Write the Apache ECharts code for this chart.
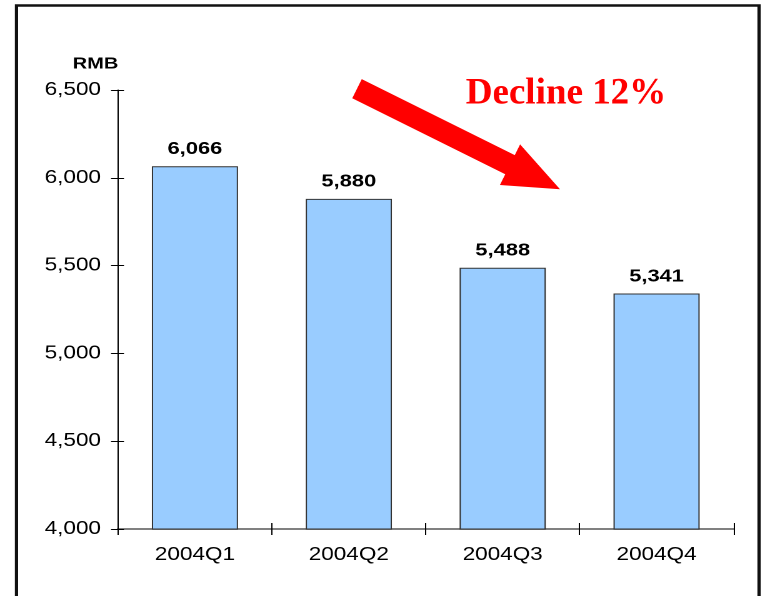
<!DOCTYPE html>
<html>
<head>
<meta charset="utf-8">
<script src="https://cdn.jsdelivr.net/npm/echarts@6/dist/echarts.min.js"></script>
<style>
  html, body { margin: 0; padding: 0; background: #fff; overflow: hidden; }
  #wrap { width: 763px; height: 596px; overflow: hidden; }
  #chart { width: 610.4px; height: 596px; transform: scaleX(1.25); transform-origin: 0 0; }
</style>
</head>
<body>
<div id="wrap"><div id="chart"></div></div>
<script>
// ---- data ----
const categories = ['2004Q1', '2004Q2', '2004Q3', '2004Q4'];
const values = [6066, 5880, 5488, 5341];
const yMin = 4000;
const yMax = 6500;
const yInterval = 500;
const unitLabel = 'RMB';
const annotation = 'Decline 12%';

// ---- layout ----
const SX = 1.25; // horizontal stretch of the whole picture
const fx = x => x / SX;
const fmt = v => Number(v).toLocaleString('en-US');
const FONT = '"Liberation Sans", Arial, sans-serif';

const chart = echarts.init(document.getElementById('chart'), null, { devicePixelRatio: 2, renderer: 'canvas' });

// arrow outline (decoration)
const arrowPts = [
  [361.75, 79.1], [514.75, 155.1], [520.1, 144.4], [560, 189.3],
  [499.9, 185], [505.25, 174.3], [352.25, 98.3]
].map(p => [fx(p[0]), p[1]]);

const option = {
  animation: false,
  backgroundColor: '#fff',
  grid: { left: fx(118), right: 610.4 - fx(734), top: 90, bottom: 67, containLabel: false },
  xAxis: [
    {
      type: 'category', data: categories, position: 'bottom',
      axisLine: { show: true, lineStyle: { color: '#808080', width: 2 } },
      axisTick: { show: true, alignWithLabel: false, inside: false, length: 6, lineStyle: { color: '#000', width: 1 } },
      axisLabel: { color: '#000', fontFamily: FONT, fontSize: 18, margin: 17 },
      splitLine: { show: false }
    },
    {
      type: 'category', data: categories, position: 'bottom',
      axisLine: { show: false },
      axisTick: { show: true, inside: true, length: 6, lineStyle: { color: '#000', width: 1 } },
      axisLabel: { show: false },
      splitLine: { show: false }
    }
  ],
  yAxis: [
    {
      type: 'value', min: yMin, max: yMax, interval: yInterval, position: 'left',
      axisLine: { show: true, lineStyle: { color: '#000', width: 1 } },
      axisTick: { show: true, inside: false, length: fx(7), lineStyle: { color: '#000' } },
      axisLabel: { color: '#000', fontFamily: FONT, fontSize: 18, margin: fx(17), formatter: v => fmt(v) },
      splitLine: { show: false }
    },
    {
      type: 'value', min: yMin, max: yMax, interval: yInterval, position: 'left',
      axisLine: { show: false },
      axisTick: { show: true, inside: true, length: fx(6), lineStyle: { color: '#000' } },
      axisLabel: { show: false },
      splitLine: { show: false }
    }
  ],
  series: [
    {
      type: 'bar', data: values, xAxisIndex: 0, yAxisIndex: 0,
      barWidth: '56%',
      itemStyle: { color: '#99CCFF', borderColor: '#333', borderWidth: 1 },
      label: {
        show: true, position: 'top', distance: 8,
        color: '#000', fontFamily: FONT, fontWeight: 'bold', fontSize: 17.5,
        formatter: p => fmt(p.value)
      }
    }
  ],
  graphic: [
    {
      type: 'rect', silent: true, z: 10,
      shape: { x: fx(16.5), y: 5.5, width: fx(759 - 16.5), height: 700 },
      style: { fill: 'none', stroke: '#111', lineWidth: 2.6 }
    },
    {
      type: 'text', x: fx(95.5), y: 64, z: 10,
      style: { text: unitLabel, fill: '#000', font: 'bold 16px ' + FONT, textAlign: 'center', textVerticalAlign: 'middle' }
    },
    {
      type: 'polygon', z: 10,
      shape: { points: arrowPts },
      style: { fill: '#FF0000', stroke: 'none' }
    },
    {
      type: 'text', x: fx(566), y: 94, z: 10, scaleX: 1 / SX,
      style: { text: annotation, fill: '#FF0000', font: 'bold 37px "Liberation Serif", "Times New Roman", serif', textAlign: 'center', textVerticalAlign: 'middle' }
    }
  ]
};
chart.setOption(option);
</script>
</body>
</html>
